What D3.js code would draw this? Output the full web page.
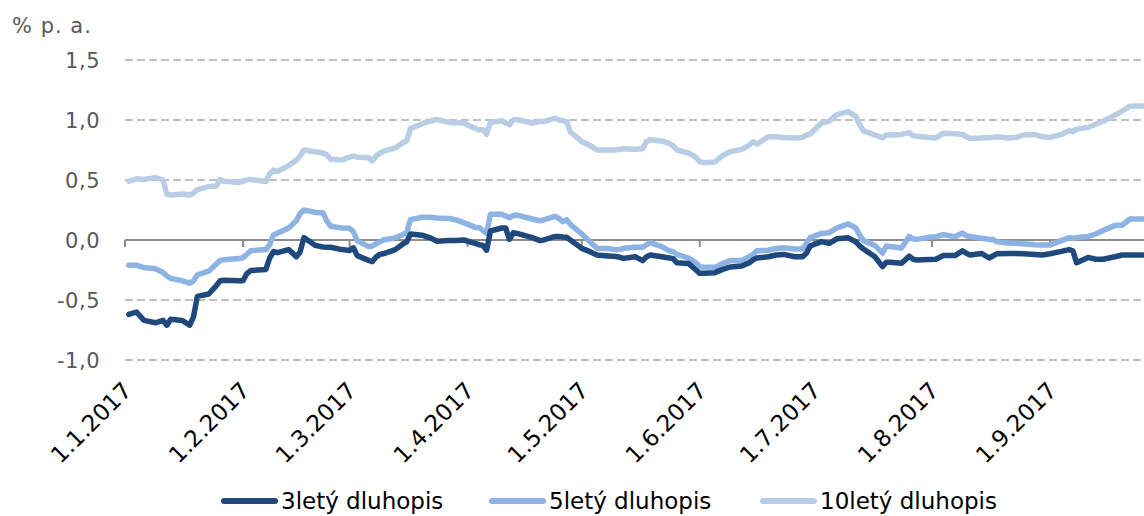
<!DOCTYPE html>
<html>
<head>
<meta charset="utf-8">
<script src="https://cdn.jsdelivr.net/npm/d3@7"></script>
<style>
  body { margin: 0; background: #ffffff; }
  text { font-family: "DejaVu Sans", Verdana, sans-serif; }
</style>
</head>
<body>
<div id="chart"></div>
<script>
var width  = 1144;
var height = 516;

// dates (business days) and yields in % p. a.
var dates = [
  "2017-01-02","2017-01-04","2017-01-06","2017-01-09","2017-01-11","2017-01-12","2017-01-13","2017-01-16","2017-01-18","2017-01-19",
  "2017-01-20","2017-01-23","2017-01-25","2017-01-26","2017-01-27","2017-01-31","2017-02-01","2017-02-02","2017-02-03","2017-02-07",
  "2017-02-08","2017-02-09","2017-02-10","2017-02-13","2017-02-15","2017-02-16","2017-02-17","2017-02-20","2017-02-22","2017-02-23",
  "2017-02-24","2017-02-27","2017-03-01","2017-03-02","2017-03-03","2017-03-06","2017-03-07","2017-03-08","2017-03-09","2017-03-10",
  "2017-03-13","2017-03-15","2017-03-16","2017-03-17","2017-03-20","2017-03-22","2017-03-24","2017-03-27","2017-03-29","2017-03-31",
  "2017-04-03","2017-04-04","2017-04-05","2017-04-06","2017-04-07","2017-04-10","2017-04-11","2017-04-12","2017-04-13","2017-04-14",
  "2017-04-18","2017-04-20","2017-04-21","2017-04-24","2017-04-25","2017-04-26","2017-04-27","2017-04-28","2017-05-01","2017-05-03",
  "2017-05-05","2017-05-08","2017-05-10","2017-05-11","2017-05-12","2017-05-15","2017-05-17","2017-05-18","2017-05-19","2017-05-22",
  "2017-05-24","2017-05-25","2017-05-26","2017-05-29","2017-05-31","2017-06-01","2017-06-02","2017-06-05","2017-06-07","2017-06-08",
  "2017-06-09","2017-06-12","2017-06-14","2017-06-15","2017-06-16","2017-06-19","2017-06-21","2017-06-23","2017-06-26","2017-06-28",
  "2017-06-29","2017-06-30","2017-07-03","2017-07-05","2017-07-07","2017-07-10","2017-07-12","2017-07-13","2017-07-14","2017-07-17",
  "2017-07-19","2017-07-20","2017-07-21","2017-07-24","2017-07-26","2017-07-27","2017-07-28","2017-07-31","2017-08-02","2017-08-04",
  "2017-08-07","2017-08-09","2017-08-10","2017-08-11","2017-08-14","2017-08-16","2017-08-17","2017-08-18","2017-08-21","2017-08-23",
  "2017-08-25","2017-08-28","2017-08-30","2017-09-01","2017-09-04","2017-09-06","2017-09-07","2017-09-08","2017-09-11","2017-09-13",
  "2017-09-15","2017-09-18","2017-09-20","2017-09-22","2017-09-25","2017-09-26"
];

var bond3y = [
  -0.62,-0.60,-0.67,-0.69,-0.67,-0.71,-0.66,-0.67,-0.71,-0.64,
  -0.47,-0.45,-0.38,-0.34,-0.335,-0.34,-0.34,-0.28,-0.255,-0.245,
  -0.15,-0.097,-0.106,-0.08,-0.14,-0.10,0.02,-0.045,-0.058,-0.06,
  -0.06,-0.08,-0.088,-0.065,-0.13,-0.17,-0.18,-0.14,-0.12,-0.113,
  -0.08,-0.033,-0.015,0.05,0.04,0.02,-0.01,-0.005,-0.005,0.0,
  -0.028,-0.04,-0.045,-0.085,0.075,0.10,0.10,0.006,0.06,0.055,
  0.02,-0.005,0.0,0.03,0.03,0.025,0.022,0.0,-0.07,-0.095,
  -0.125,-0.133,-0.138,-0.144,-0.153,-0.139,-0.172,-0.14,-0.125,-0.14,
  -0.15,-0.155,-0.19,-0.195,-0.25,-0.278,-0.278,-0.272,-0.245,-0.235,
  -0.225,-0.217,-0.19,-0.165,-0.15,-0.14,-0.125,-0.12,-0.14,-0.14,
  -0.11,-0.05,-0.014,-0.028,0.01,0.018,-0.015,-0.05,-0.075,-0.14,
  -0.222,-0.185,-0.185,-0.194,-0.135,-0.16,-0.167,-0.163,-0.16,-0.13,
  -0.13,-0.09,-0.11,-0.125,-0.112,-0.15,-0.133,-0.115,-0.112,-0.112,
  -0.115,-0.12,-0.125,-0.115,-0.095,-0.08,-0.09,-0.19,-0.145,-0.16,
  -0.16,-0.14,-0.125,-0.125,-0.125,-0.125
];

var bond5y = [
  -0.21,-0.21,-0.23,-0.24,-0.27,-0.30,-0.32,-0.34,-0.36,-0.34,
  -0.29,-0.26,-0.20,-0.17,-0.165,-0.155,-0.147,-0.12,-0.089,-0.08,
  -0.04,0.042,0.056,0.10,0.16,0.22,0.25,0.23,0.228,0.16,
  0.115,0.10,0.097,0.069,-0.005,-0.055,-0.05,-0.03,-0.014,0.002,
  0.018,0.045,0.06,0.17,0.19,0.189,0.183,0.18,0.167,0.145,
  0.105,0.105,0.08,0.056,0.215,0.215,0.20,0.185,0.205,0.208,
  0.175,0.16,0.167,0.197,0.18,0.153,0.17,0.13,0.05,-0.01,
  -0.069,-0.07,-0.082,-0.078,-0.069,-0.061,-0.061,-0.04,-0.022,-0.055,
  -0.09,-0.097,-0.12,-0.15,-0.19,-0.222,-0.225,-0.228,-0.195,-0.185,
  -0.17,-0.17,-0.14,-0.12,-0.09,-0.085,-0.07,-0.065,-0.075,-0.075,
  -0.03,0.02,0.055,0.061,0.10,0.135,0.10,0.04,-0.005,-0.045,
  -0.11,-0.05,-0.055,-0.067,0.03,0.01,0.005,0.022,0.027,0.045,
  0.028,0.058,0.035,0.03,0.015,0.005,0.006,-0.015,-0.025,-0.028,
  -0.032,-0.04,-0.042,-0.042,-0.005,0.02,0.014,0.02,0.03,0.05,
  0.08,0.12,0.125,0.175,0.175,0.175
];

var bond10y = [
  0.49,0.51,0.505,0.52,0.50,0.38,0.375,0.383,0.375,0.39,
  0.42,0.445,0.45,0.505,0.49,0.48,0.49,0.50,0.505,0.487,
  0.55,0.583,0.57,0.62,0.665,0.70,0.75,0.735,0.725,0.71,
  0.672,0.667,0.69,0.70,0.69,0.686,0.66,0.70,0.725,0.74,
  0.767,0.81,0.825,0.93,0.967,0.99,1.005,0.98,0.978,0.975,
  0.93,0.917,0.92,0.881,0.98,0.994,0.975,0.96,1.0,1.004,
  0.975,0.99,0.986,1.015,1.0,0.994,0.986,0.90,0.82,0.79,
  0.75,0.75,0.75,0.755,0.76,0.756,0.76,0.82,0.835,0.825,
  0.806,0.785,0.75,0.725,0.69,0.653,0.644,0.65,0.705,0.72,
  0.736,0.755,0.79,0.819,0.80,0.86,0.86,0.855,0.85,0.855,
  0.875,0.883,0.975,0.99,1.045,1.07,1.03,0.96,0.91,0.875,
  0.853,0.875,0.875,0.88,0.895,0.87,0.865,0.855,0.85,0.89,
  0.885,0.88,0.86,0.847,0.85,0.855,0.855,0.86,0.85,0.855,
  0.875,0.88,0.86,0.855,0.88,0.91,0.903,0.925,0.937,0.965,
  0.99,1.04,1.075,1.115,1.117,1.117
];

var seriesNames  = ["3letý dluhopis", "5letý dluhopis", "10letý dluhopis"];
var seriesColors = ["#1f497d", "#8db3e2", "#b9cde5"];
var yTicks = [1.5, 1.0, 0.5, 0.0, -0.5, -1.0];

var parseDate = d3.timeParse("%Y-%m-%d");
var dateFmt   = d3.timeFormat("%-d.%-m.%Y");
var numFmt    = d3.formatLocale({decimal: ",", thousands: " ", grouping: [3], currency: ["", ""], minus: "-"}).format(".1f");

var x = d3.scaleTime()
  .domain([new Date(2017, 0, 1), new Date(2017, 8, 1)])
  .range([125, 1050]);
var y = d3.scaleLinear()
  .domain([-1, 1.5])
  .range([360, 60]);

var svg = d3.select("#chart").append("svg")
  .attr("width", width)
  .attr("height", height);

svg.append("text")
  .attr("x", 12).attr("y", 33)
  .attr("fill", "#595959")
  .style("font-size", "21px")
  .style("letter-spacing", "1px")
  .text("% p. a.");

// gridlines
svg.append("g").selectAll("line")
  .data(yTicks.filter(function(d) { return d !== 0; }))
  .enter().append("line")
  .attr("x1", 125).attr("x2", width)
  .attr("y1", function(d) { return y(d); })
  .attr("y2", function(d) { return y(d); })
  .attr("stroke", "#c0c0c0")
  .attr("stroke-width", 2)
  .attr("stroke-dasharray", "8,4");

svg.append("g").selectAll("text")
  .data(yTicks)
  .enter().append("text")
  .attr("x", 100)
  .attr("y", function(d) { return y(d); })
  .attr("dy", "0.36em")
  .attr("text-anchor", "end")
  .attr("fill", "#595959")
  .style("font-size", "21px")
  .style("letter-spacing", "0.5px")
  .text(function(d) { return numFmt(d); });

// zero axis with month ticks
var months = d3.timeMonth.range(new Date(2017, 0, 1), new Date(2017, 8, 2));
var axis = svg.append("g");
axis.append("line")
  .attr("x1", 125).attr("x2", width)
  .attr("y1", y(0)).attr("y2", y(0))
  .attr("stroke", "#8c8c8c")
  .attr("stroke-width", 2);
axis.selectAll(".tick")
  .data(months)
  .enter().append("line")
  .attr("x1", function(d) { return x(d); })
  .attr("x2", function(d) { return x(d); })
  .attr("y1", y(0)).attr("y2", y(0) + 7)
  .attr("stroke", "#8c8c8c")
  .attr("stroke-width", 2);

svg.append("g").selectAll("text")
  .data(months)
  .enter().append("text")
  .attr("text-anchor", "end")
  .attr("transform", function(d) { return "translate(" + (x(d) + 8) + ",392) rotate(-45)"; })
  .attr("fill", "#000")
  .style("font-size", "23px")
  .text(function(d) { return dateFmt(d); });

// series
var series = [bond3y, bond5y, bond10y];
var line = d3.line()
  .x(function(d) { return x(d[0]); })
  .y(function(d) { return y(d[1]); });

for (var s = series.length - 1; s >= 0; s--) {
  var pts = dates.map(function(d, i) { return [parseDate(d), series[s][i]]; });
  svg.append("path")
    .datum(pts)
    .attr("d", line)
    .attr("fill", "none")
    .attr("stroke", seriesColors[s])
    .attr("stroke-width", 5.5)
    .attr("stroke-linejoin", "round")
    .attr("stroke-linecap", "round");
}

// legend
var legendX = [222, 490, 761];
var legend = svg.append("g").selectAll("g")
  .data(seriesNames)
  .enter().append("g")
  .attr("transform", function(d, i) { return "translate(" + legendX[i] + ",501)"; });
legend.append("line")
  .attr("x1", 2).attr("x2", 53)
  .attr("stroke", function(d, i) { return seriesColors[i]; })
  .attr("stroke-width", 6)
  .attr("stroke-linecap", "round");
legend.append("text")
  .attr("x", 59).attr("y", 8)
  .style("font-size", "23px")
  .attr("fill", "#000")
  .text(function(d) { return d; });
</script>
</body>
</html>
